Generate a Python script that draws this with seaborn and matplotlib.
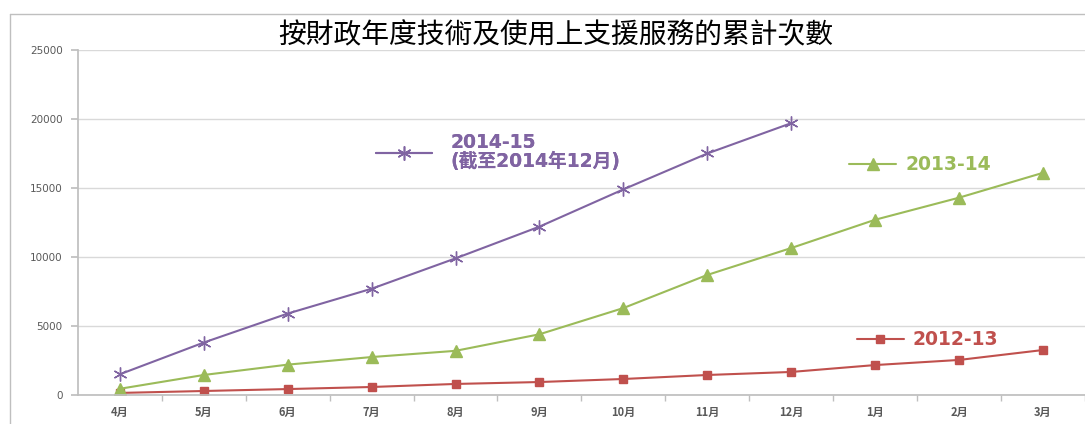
import numpy as np
import pandas as pd
import matplotlib
matplotlib.use('Agg')
import matplotlib.pyplot as plt
from matplotlib.lines import Line2D
import seaborn as sns

# 數據（由圖表讀取的估計值）
months = ['4月', '5月', '6月', '7月', '8月', '9月', '10月', '11月', '12月', '1月', '2月', '3月']
fy_2012_13 = [150, 290, 430, 580, 800, 940, 1160, 1450, 1670, 2170, 2540, 3260]
fy_2013_14 = [450, 1450, 2200, 2750, 3200, 4400, 6300, 8700, 10650, 12700, 14300, 16100]
fy_2014_15 = [1500, 3800, 5900, 7700, 9900, 12200, 14900, 17500, 19700]

labels = ['2012-13', '2013-14', '2014-15\n(截至2014年12月)']
colors = ['#C0504D', '#9BBB59', '#8064A2']

sns.set_theme(style='white')
plt.rcParams['font.family'] = ['Noto Sans CJK TC', 'DejaVu Sans']

fig = plt.figure(figsize=(10.85, 4.24), dpi=100)
ax = fig.add_axes([77.8 / 1085, 29 / 424, (1085 - 77.8) / 1085, 345 / 424])

series = [fy_2012_13, fy_2013_14, fy_2014_15]
markers = ['s', '^', (6, 2, 0)]
msizes = [6, 8, 10]
handles = []
for vals, col, mk, ms in zip(series, colors, markers, msizes):
    df = pd.DataFrame({'x': np.arange(len(vals)), 'y': vals})
    sns.lineplot(data=df, x='x', y='y', ax=ax, color=col, linewidth=1.5,
                 marker=mk, markersize=ms, markeredgecolor=col,
                 markeredgewidth=1, sort=False)
    handles.append(ax.lines[-1])

ax.set_xlim(-0.5, 11.44)
ax.set_ylim(0, 25000)
ax.set_yticks(np.arange(0, 25001, 5000))
ax.set_xticks(np.arange(len(months)))
ax.set_xticklabels(months)
ax.set_xticks(np.arange(len(months)) + 0.5, minor=True)
ax.set_xlabel('')
ax.set_ylabel('')

ax.yaxis.grid(True, color='#D9D9D9', linewidth=1)
ax.set_axisbelow(True)
for s in ['top', 'right']:
    ax.spines[s].set_visible(False)
ax.spines['left'].set_color('#BFBFBF')
ax.spines['bottom'].set_color('#BFBFBF')

ax.tick_params(axis='x', which='major', length=0, pad=8, labelsize=8, labelcolor='#595959')
ax.tick_params(axis='x', which='minor', length=4, color='#BFBFBF', bottom=True)
ax.tick_params(axis='y', length=5, color='#BFBFBF', left=True, labelsize=7.5,
               labelcolor='#595959', pad=6)
for t in ax.get_xticklabels():
    t.set_fontweight('bold')
for t in ax.get_yticklabels():
    t.set_family('DejaVu Sans')

# 圖例分別放在各線旁
leg_pos = [(8.78, 3986, 2.5, 0.5), (8.69, 16667, 2.5, 0.5), (3.05, 17600, 3.0, 1.0)]
for h, lab, (lx, ly, hl, pad) in zip(handles, labels, leg_pos):
    leg = ax.legend([h], [lab], loc='center left', bbox_to_anchor=(lx, ly),
                    bbox_transform=ax.transData, frameon=False, borderpad=0,
                    borderaxespad=0, handlelength=hl, handletextpad=pad,
                    labelcolor='linecolor', labelspacing=0,
                    prop={'family': ['DejaVu Sans', 'Noto Sans CJK TC'],
                          'weight': 'bold', 'size': 13.5})
    for t in leg.get_texts():
        t.set_linespacing(1.0)
    ax.add_artist(leg)

fig.text(0.512, 0.917, '按財政年度技術及使用上支援服務的累計次數', ha='center', va='center',
         fontsize=20, fontweight='light', color='#000000')

# 外框
fig.add_artist(Line2D([10 / 1085, 10 / 1085], [0, 1 - 14 / 424], color='#BFBFBF', linewidth=1))
fig.add_artist(Line2D([10 / 1085, 1], [1 - 14 / 424, 1 - 14 / 424], color='#BFBFBF', linewidth=1))

fig.savefig('out.png', dpi=100)
